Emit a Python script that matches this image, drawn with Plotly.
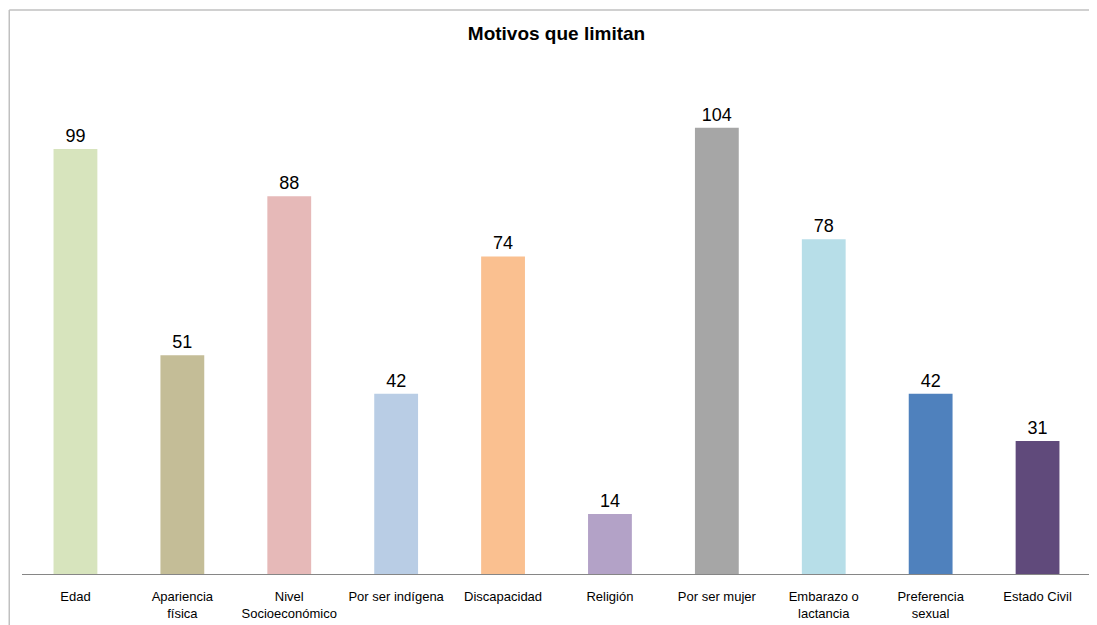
import plotly.graph_objects as go

categories = ["Edad", "Apariencia<br>física", "Nivel<br>Socioeconómico", "Por ser indígena",
              "Discapacidad", "Religión", "Por ser mujer", "Embarazo o<br>lactancia",
              "Preferencia<br>sexual", "Estado Civil"]
values = [99, 51, 88, 42, 74, 14, 104, 78, 42, 31]
colors = ["#D7E4BD", "#C4BD97", "#E6B9B8", "#B9CDE5", "#FAC090",
          "#B3A2C7", "#A6A6A6", "#B7DEE8", "#4F81BD", "#604A7B"]

FONT = "Liberation Sans, Arial, sans-serif"

fig = go.Figure(go.Bar(
    x=categories, y=values,
    marker=dict(color=colors, line=dict(width=0)),
    width=0.41,
    text=[str(v) for v in values],
    textposition="outside",
    textfont=dict(family=FONT, size=18, color="#000000"),
    cliponaxis=False,
))

bx0 = (0.75 - 13.5) / 1070
by1 = (566 - 2.5) / 514.6
border = dict(color="#C0C0C0", width=1.5)

fig.update_layout(
    width=1089, height=617,
    margin=dict(l=13.5, r=5.5, t=51.4, b=51, pad=0),
    paper_bgcolor="white", plot_bgcolor="white",
    showlegend=False,
    title=dict(text="<b>Motivos que limitan</b>", x=(13.5 + 535) / 1089, xanchor="center",
               y=1 - 25 / 617, yanchor="middle", yref="container",
               font=dict(family=FONT, size=19, color="#000000")),
    xaxis=dict(showline=True, linecolor="#868686", linewidth=1, ticks="",
               tickfont=dict(family=FONT, size=13, color="#000000"),
               ticklabelstandoff=10, showgrid=False, zeroline=False),
    yaxis=dict(range=[0, 120], visible=False, showgrid=False, zeroline=False),
    shapes=[
        dict(type="line", xref="paper", yref="paper", x0=bx0, x1=1.05,
             y0=by1, y1=by1, line=border, layer="below"),
        dict(type="line", xref="paper", yref="paper", x0=bx0, x1=bx0,
             y0=-0.2, y1=by1, line=border, layer="below"),
    ],
)

fig.write_html("out.html")
